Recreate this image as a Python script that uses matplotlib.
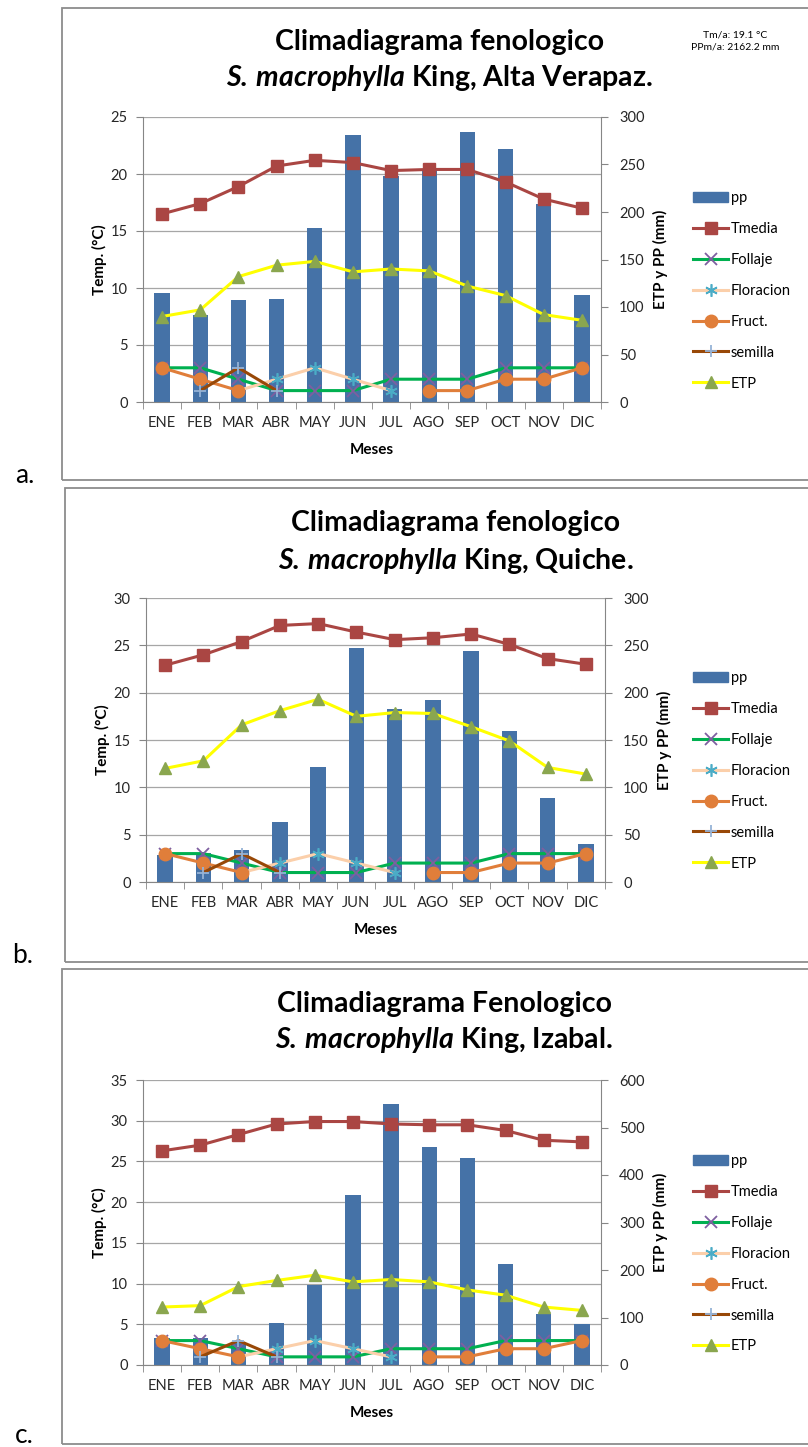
import matplotlib

matplotlib.use("Agg")
import matplotlib.pyplot as plt
import numpy as np
from matplotlib.lines import Line2D
from matplotlib.patches import Patch, Rectangle
from matplotlib.ticker import MultipleLocator

plt.rcParams["font.family"] = ["Lato", "DejaVu Sans"]
plt.rcParams["mathtext.fontset"] = "custom"
plt.rcParams["mathtext.bfit"] = "Lato:italic:bold"
plt.rcParams["mathtext.it"] = "Lato:italic"
plt.rcParams["mathtext.rm"] = "Lato"

W, H = 808, 1447

MONTHS = ["ENE", "FEB", "MAR", "ABR", "MAY", "JUN", "JUL", "AGO", "SEP", "OCT", "NOV", "DIC"]
LEGEND_LABELS = ["pp", "Tmedia", "Follaje", "Floracion", "Fruct.", "semilla", "ETP"]

# phenology (same in the three sites)
nan = np.nan
FOLLAJE = [3, 3, 2, 1, 1, 1, 2, 2, 2, 3, 3, 3]
FLORACION = [nan, nan, 1, 2, 3, 2, 1, nan, nan, nan, nan, nan]
FRUCT = [3, 2, 1, nan, nan, nan, nan, 1, 1, 2, 2, 3]
SEMILLA = [nan, 1, 3, 1, nan, nan, nan, nan, nan, nan, nan, nan]

# a. Alta Verapaz
TMEDIA_A = [16.5, 17.4, 18.9, 20.7, 21.2, 21.0, 20.3, 20.4, 20.4, 19.3, 17.8, 17.0]
PP_A = [115, 92, 107, 108, 183, 281, 238, 244, 284, 266, 208, 113]
ETP_A = [90, 97, 132, 144, 148, 137, 140, 138, 122, 112, 92, 86]

# b. Quiche
TMEDIA_B = [22.9, 24.0, 25.4, 27.1, 27.3, 26.4, 25.6, 25.8, 26.2, 25.1, 23.6, 23.0]
PP_B = [28, 31, 34, 63, 121, 247, 183, 192, 244, 159, 89, 40]
ETP_B = [120, 128, 166, 181, 193, 175, 179, 178, 164, 149, 121, 114]

# c. Izabal
TMEDIA_C = [26.3, 27.0, 28.3, 29.6, 29.9, 29.9, 29.6, 29.5, 29.5, 28.8, 27.6, 27.4]
PP_C = [57, 57, 48, 89, 168, 357, 550, 458, 435, 213, 108, 86]
ETP_C = [122, 125, 165, 178, 189, 175, 180, 175, 158, 147, 122, 115]

COLORS = {
    "pp": "#4572A7",
    "tmedia": "#AA4643",
    "follaje": "#00B050",
    "follaje_mk": "#7E5FA0",
    "floracion": "#FBCFAA",
    "floracion_mk": "#4BACC6",
    "fruct": "#E07E3A",
    "semilla": "#984807",
    "semilla_mk": "#95B3D7",
    "etp": "#FFFF00",
    "etp_mk": "#8AA64F",
    "axis": "#868686",
    "text": "#262626",
}

PANELS = [
    {
        "tag": "a.", "tag_xy": (15, 483),
        "box": (62, 8, 480),
        "axes": (143, 117, 601, 402),
        "title": ("Climadiagrama fenologico", "King, Alta Verapaz."),
        "title_x": 440, "title_y": (42, 78),
        "tmedia": TMEDIA_A, "pp": PP_A, "etp": ETP_A,
        "left_max": 25, "right_max": 300, "right_step": 50,
        "legend_top": 191,
    },
    {
        "tag": "b.", "tag_xy": (12, 963),
        "box": (65, 488, 962),
        "axes": (146, 598, 605, 882),
        "title": ("Climadiagrama fenologico", "King, Quiche."),
        "title_x": 456, "title_y": (523, 561),
        "tmedia": TMEDIA_B, "pp": PP_B, "etp": ETP_B,
        "left_max": 30, "right_max": 300, "right_step": 50,
        "legend_top": 671,
    },
    {
        "tag": "c.", "tag_xy": (15, 1443),
        "box": (62, 969, 1444),
        "axes": (143, 1080, 601, 1365),
        "title": ("Climadiagrama Fenologico", "King, Izabal."),
        "title_x": 444, "title_y": (1004, 1040),
        "tmedia": TMEDIA_C, "pp": PP_C, "etp": ETP_C,
        "left_max": 35, "right_max": 600, "right_step": 100,
        "legend_top": 1154,
    },
]


def fx(px):
    return px / W


def fy(py):
    return 1 - py / H


def legend_handles():
    lw = 2.2
    return [
        Patch(facecolor=COLORS["pp"], edgecolor=COLORS["pp"]),
        Line2D([], [], color=COLORS["tmedia"], lw=lw, marker="s", ms=9,
               mfc=COLORS["tmedia"], mec=COLORS["tmedia"]),
        Line2D([], [], color=COLORS["follaje"], lw=lw, marker="x", ms=8,
               mew=1.3, mec=COLORS["follaje_mk"]),
        Line2D([], [], color=COLORS["floracion"], lw=lw, marker=(6, 2, 0), ms=9,
               mew=1.2, mec=COLORS["floracion_mk"]),
        Line2D([], [], color=COLORS["fruct"], lw=lw, marker="o", ms=9,
               mfc=COLORS["fruct"], mec=COLORS["fruct"]),
        Line2D([], [], color=COLORS["semilla"], lw=lw, marker="+", ms=9,
               mew=1.3, mec=COLORS["semilla_mk"]),
        Line2D([], [], color=COLORS["etp"], lw=lw, marker="^", ms=9,
               mfc=COLORS["etp_mk"], mec=COLORS["etp_mk"]),
    ]


def draw_panel(fig, p):
    # frame of the chart object
    bx, btop, bbot = p["box"]
    fig.patches.append(Rectangle((fx(bx), fy(bbot)), 1.0, (bbot - btop) / H,
                                 transform=fig.transFigure, fill=False,
                                 edgecolor="#8C8C8C", lw=1.3))
    fig.text(fx(p["tag_xy"][0]), fy(p["tag_xy"][1]), p["tag"], fontsize=19,
             ha="left", va="baseline", color="black")

    left, top, right, bottom = p["axes"]
    ax = fig.add_axes([fx(left), fy(bottom), (right - left) / W, (bottom - top) / H])
    ax2 = ax.twinx()
    ax.set_zorder(ax2.get_zorder() + 1)
    ax.patch.set_visible(False)

    x = np.arange(len(MONTHS))

    # right axis: precipitation bars + ETP
    ax2.bar(x, p["pp"], width=0.4, color=COLORS["pp"], zorder=2)
    ax2.plot(x, p["etp"], color=COLORS["etp"], lw=2.2, marker="^", ms=9,
             mfc=COLORS["etp_mk"], mec=COLORS["etp_mk"], zorder=3)
    ax2.set_ylim(0, p["right_max"])
    ax2.yaxis.set_major_locator(MultipleLocator(p["right_step"]))
    # horizontal grid follows the left-axis steps
    ax2.yaxis.set_minor_locator(MultipleLocator(p["right_max"] * 5 / p["left_max"]))
    ax2.yaxis.remove_overlapping_locs = False
    ax2.grid(which="minor", axis="y", color="#A6A6A6", lw=0.9, zorder=0)
    ax2.set_axisbelow(True)
    ax2.tick_params(axis="y", which="major", length=5, color=COLORS["axis"],
                    labelsize=10.5, labelcolor=COLORS["text"], pad=8)
    ax2.tick_params(axis="y", which="minor", length=0)

    # left axis: temperature and phenology
    ax.plot(x, p["tmedia"], color=COLORS["tmedia"], lw=2.2, marker="s", ms=9,
            mfc=COLORS["tmedia"], mec=COLORS["tmedia"], zorder=3)
    ax.plot(x, FOLLAJE, color=COLORS["follaje"], lw=2.2, marker="x", ms=8,
            mew=1.3, mec=COLORS["follaje_mk"], zorder=3)
    ax.plot(x, FLORACION, color=COLORS["floracion"], lw=2.2, marker=(6, 2, 0), ms=9,
            mew=1.2, mec=COLORS["floracion_mk"], zorder=3)
    ax.plot(x, FRUCT, color=COLORS["fruct"], lw=2.2, marker="o", ms=9,
            mfc=COLORS["fruct"], mec=COLORS["fruct"], zorder=3)
    ax.plot(x, SEMILLA, color=COLORS["semilla"], lw=2.2, marker="+", ms=9,
            mew=1.3, mec=COLORS["semilla_mk"], zorder=3)

    ax.set_xlim(-0.5, len(MONTHS) - 0.5)
    ax.set_ylim(0, p["left_max"])
    ax.set_yticks(np.arange(0, p["left_max"] + 1, 5))
    ax.set_xticks(x, MONTHS)
    ax.set_xticks(np.arange(-0.5, len(MONTHS), 1), minor=True)
    ax.tick_params(axis="x", which="major", length=0, pad=10, labelsize=10.5,
                   labelcolor=COLORS["text"])
    ax.tick_params(axis="x", which="minor", length=5, color=COLORS["axis"])
    ax.tick_params(axis="y", length=5, color=COLORS["axis"], labelsize=10.5,
                   labelcolor=COLORS["text"], pad=6)

    for a in (ax, ax2):
        a.spines["top"].set_visible(False)
    ax.spines["right"].set_visible(False)
    ax2.spines["left"].set_visible(False)
    ax2.spines["bottom"].set_visible(False)
    for name in ("left", "bottom"):
        ax.spines[name].set_color(COLORS["axis"])
    ax2.spines["right"].set_color(COLORS["axis"])

    # axis titles
    ymid = (top + bottom) / 2
    fig.text(fx(left - 44), fy(ymid), "Temp. (°C)", rotation=90, ha="center",
             va="center", fontsize=11, fontweight="bold")
    fig.text(fx(right + 59), fy(ymid), "ETP y PP (mm)", rotation=90, ha="center",
             va="center", fontsize=11, fontweight="bold")
    fig.text(fx((left + right) / 2), fy(bottom + 48), "Meses", ha="center",
             va="center", fontsize=11, fontweight="bold")

    # chart title
    line1, rest = p["title"]
    fig.text(fx(p["title_x"]), fy(p["title_y"][0]), line1, ha="center", va="center",
             fontsize=20.5, fontweight="bold")
    fig.text(fx(p["title_x"]), fy(p["title_y"][1]),
             r"$\mathbfit{S.}$$\,$$\mathbfit{macrophylla}$ " + rest, ha="center",
             va="center", fontsize=20.5, fontweight="bold")

    ax.legend(legend_handles(), LEGEND_LABELS, loc="upper left",
              bbox_to_anchor=(fx(693), fy(p["legend_top"])),
              bbox_transform=fig.transFigure, frameon=False, fontsize=10.5,
              handlelength=2.4, handletextpad=0.2, labelspacing=1.16,
              borderaxespad=0, borderpad=0)
    return ax, ax2


def main():
    fig = plt.figure(figsize=(W / 100, H / 100), dpi=100)

    for panel in PANELS:
        draw_panel(fig, panel)

    fig.text(fx(735), fy(35), "Tm/a: 19.1 °C", ha="center", va="center", fontsize=7.5)
    fig.text(fx(735), fy(47), "PPm/a: 2162.2 mm", ha="center", va="center", fontsize=7.5)

    fig.savefig("out.png", dpi=100)
    plt.close(fig)


if __name__ == "__main__":
    main()
